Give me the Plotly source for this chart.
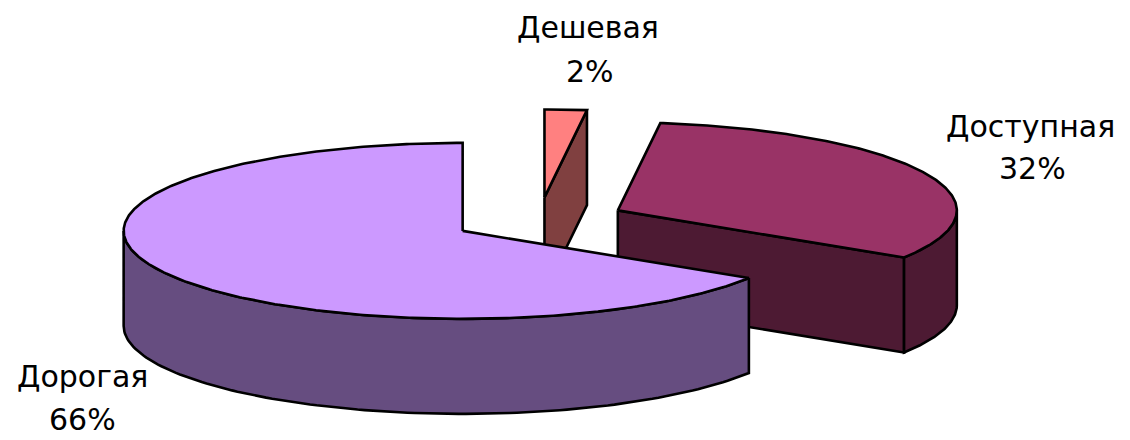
import numpy as np
import plotly.graph_objects as go

# ---- data ----
categories = ["Дешевая", "Доступная", "Дорогая"]
shares = [2, 32, 66]
top_colors = ["#FF8080", "#993366", "#CC99FF"]
side_colors = ["#804040", "#4D1A33", "#664D80"]

# ---- geometry of the 3-D pie (projection settings) ----
CX, CY = 539.0, 220.0      # unexploded centre of the top face
RX, RY = 339.0, 88.0       # ellipse radii of the top face
DEPTH = 95.0               # height of the pie walls
EXPLODE = 0.257            # explosion as a fraction of the radius
LINE_W = 2.6

total = float(sum(shares))
bounds = np.concatenate([[0.0], np.cumsum(shares) / total * 360.0])


def proj(cx, cy, ang, r=1.0, dz=0.0):
    a = np.radians(ang)
    return cx + RX * r * np.sin(a), cy - RY * r * np.cos(a) + dz


fig = go.Figure()


def poly(xs, ys, color):
    xs = list(xs) + [xs[0]]
    ys = list(ys) + [ys[0]]
    fig.add_trace(go.Scatter(
        x=xs, y=ys, mode="lines", fill="toself", fillcolor=color,
        line=dict(color="black", width=LINE_W), hoverinfo="skip",
        showlegend=False))


for i, name in enumerate(categories):
    a1, a2 = bounds[i], bounds[i + 1]
    mid = (a1 + a2) / 2.0
    ex, ey = proj(0, 0, mid, EXPLODE)
    cx, cy = CX + ex, CY + ey

    # radial wall at the end edge (faces the viewer when sin(a2) > 0)
    if np.sin(np.radians(a2)) > 1e-6:
        px, py = proj(cx, cy, a2)
        poly([cx, px, px, cx], [cy, py, py + DEPTH, cy + DEPTH], side_colors[i])
    # radial wall at the start edge (faces the viewer when sin(a1) < 0)
    if np.sin(np.radians(a1)) < -1e-6:
        px, py = proj(cx, cy, a1)
        poly([cx, px, px, cx], [cy, py, py + DEPTH, cy + DEPTH], side_colors[i])

    # outer curved wall, visible on the front half (90..270 deg)
    lo, hi = max(a1, 90.0), min(a2, 270.0)
    if hi > lo:
        t = np.linspace(lo, hi, 120)
        tx, ty = proj(cx, cy, t)
        bx, by = proj(cx, cy, t[::-1], dz=DEPTH)
        poly(np.concatenate([tx, bx]), np.concatenate([ty, by]), side_colors[i])

    # top face
    t = np.linspace(a1, a2, max(4, int((a2 - a1) * 2)))
    tx, ty = proj(cx, cy, t)
    poly(np.concatenate([[cx], tx]), np.concatenate([[cy], ty]), top_colors[i])

# ---- labels (text from data, placement as layout) ----
label_pos = {
    "Дешевая": ((588, 27), (590, 71)),
    "Доступная": ((1030, 126), (1032, 168)),
    "Дорогая": ((82, 376), (82, 419)),
}
annotations = []
for name, val in zip(categories, shares):
    (nx, ny), (vx, vy) = label_pos[name]
    for txt, x, y in ((name, nx, ny), (f"{val}%", vx, vy)):
        annotations.append(dict(
            x=x, y=y, xref="x", yref="y", text=txt, showarrow=False,
            xanchor="center", yanchor="middle",
            font=dict(family="DejaVu Sans", size=30, color="black")))

fig.update_layout(
    width=1130, height=440,
    margin=dict(l=0, r=0, t=0, b=0),
    paper_bgcolor="white", plot_bgcolor="white",
    xaxis=dict(range=[0, 1130], visible=False, fixedrange=True),
    yaxis=dict(range=[440, 0], visible=False, fixedrange=True),
    annotations=annotations,
    showlegend=False,
)

fig.write_html("out.html", config={"displayModeBar": False},
               post_script="document.body.style.margin='0px';")
